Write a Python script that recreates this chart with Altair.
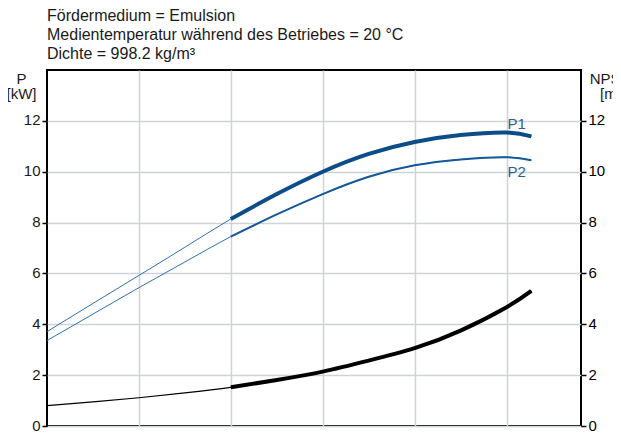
import altair as alt
import pandas as pd

# ---- data ----
flow = [0, 0.5, 1, 1.5, 2, 2.5, 3, 3.5, 4, 4.5, 5, 5.27]
p1 = [3.71, 4.82, 5.92, 7.03, 8.14, 9.12, 10.00, 10.70, 11.17, 11.44, 11.54, 11.39]
p2 = [3.36, 4.40, 5.44, 6.45, 7.45, 8.32, 9.12, 9.80, 10.25, 10.48, 10.57, 10.45]
npsh = [0.80, 0.95, 1.11, 1.30, 1.52, 1.81, 2.14, 2.57, 3.06, 3.75, 4.67, 5.31]
op_start = 2  # start of the bold (operating) range

curve_labels = ["P1", "P2"]
label_x = [5.11, 5.11]
label_y = [11.69, 9.8]

y_ticks = [0, 2, 4, 6, 8, 10, 12]
x_grid = [1, 2, 3, 4, 5]
header = "Fördermedium = Emulsion\nMedientemperatur während des Betriebes = 20 °C\nDichte = 998.2 kg/m³"

FONT = "Liberation Sans"
GRID = "#cfd3d6"
CURVE = "natural"

pdf = pd.DataFrame(
    {"flow": flow * 2, "value": p1 + p2, "curve": ["P1"] * len(flow) + ["P2"] * len(flow)}
)
p1_df = pd.DataFrame({"flow": flow, "value": p1})
p2_df = pd.DataFrame({"flow": flow, "value": p2})
n_df = pd.DataFrame({"flow": flow, "value": npsh})
lab_df = pd.DataFrame({"flow": label_x, "value": label_y, "label": curve_labels})

X = alt.X(
    "flow:Q",
    scale=alt.Scale(domain=[0, 5.81], nice=False, zero=False),
    axis=alt.Axis(values=x_grid, labels=False, ticks=False, domain=False, title=None,
                  grid=True, gridColor=GRID, gridWidth=1.5),
)

YL = alt.Y(
    "value:Q",
    scale=alt.Scale(domain=[0, 14], nice=False),
    axis=alt.Axis(values=y_ticks, grid=True, gridColor=GRID, gridWidth=1.5,
                  domain=False, tickColor="black", tickSize=5, tickWidth=1.5,
                  labelFontSize=15, labelColor="#1a1a1a", labelFont=FONT, labelPadding=2,
                  labelOffset=-1,
                  title=["P", "[kW]"], titleAngle=0, titleX=-26, titleY=13.5,
                  titleAlign="center", titleBaseline="alphabetic", titleFontSize=15,
                  titleFontWeight="normal", titleColor="#1a1a1a", titleFont=FONT,
                  titleLineHeight=14.5),
)

YR = alt.Y(
    "value:Q",
    scale=alt.Scale(domain=[0, 14], nice=False),
    axis=alt.Axis(orient="right", values=y_ticks, grid=False, domain=False,
                  tickColor="black", tickSize=5, tickWidth=1.5,
                  labelFontSize=15, labelColor="black", labelFont=FONT, labelPadding=2,
                  labelOffset=-1,
                  title=["NPSH", "[m]"], titleAngle=0, titleX=29, titleY=13.5,
                  titleAlign="center", titleBaseline="alphabetic", titleFontSize=15,
                  titleFontWeight="normal", titleColor="#1a1a1a", titleFont=FONT,
                  titleLineHeight=14.5),
)

thin_p = alt.Chart(pdf).mark_line(color="#2f6fb3", strokeWidth=1, interpolate=CURVE).encode(
    x=X, y=YL, detail="curve:N")
p1_thick = alt.Chart(p1_df).transform_filter(alt.datum.flow >= op_start).mark_line(
    color="#0c4c88", strokeWidth=4, interpolate=CURVE).encode(x=X, y=YL)
p2_thick = alt.Chart(p2_df).transform_filter(alt.datum.flow >= op_start).mark_line(
    color="#15599a", strokeWidth=2, interpolate=CURVE).encode(x=X, y=YL)
labels = alt.Chart(lab_df).mark_text(
    color="#2a5f96", fontSize=15, font=FONT, align="center", baseline="alphabetic").encode(
    x=X, y=YL, text="label:N")
head = alt.Chart(pd.DataFrame({"t": [header]})).mark_text(
    align="left", baseline="alphabetic", fontSize=16, font=FONT, color="#1a1a1a",
    lineBreak="\n", lineHeight=19).encode(
    x=alt.value(0), y=alt.value(-49), text="t:N")

left = alt.layer(thin_p, p1_thick, p2_thick, labels, head)

n_thin = alt.Chart(n_df).mark_line(color="black", strokeWidth=1.2, interpolate=CURVE).encode(
    x=X, y=YR)
n_thick = alt.Chart(n_df).transform_filter(alt.datum.flow >= op_start).mark_line(
    color="black", strokeWidth=4, interpolate=CURVE).encode(x=X, y=YR)
right = alt.layer(n_thin, n_thick)

chart = alt.layer(left, right).resolve_scale(y="independent").properties(
    width=534, height=356,
    autosize=alt.AutoSizeParams(type="none"),
    padding={"left": 39, "top": 62, "right": 32, "bottom": 5},
).configure_view(stroke="black", strokeWidth=2)

chart.save("out.html", embed_options={"renderer": "svg", "actions": False})
